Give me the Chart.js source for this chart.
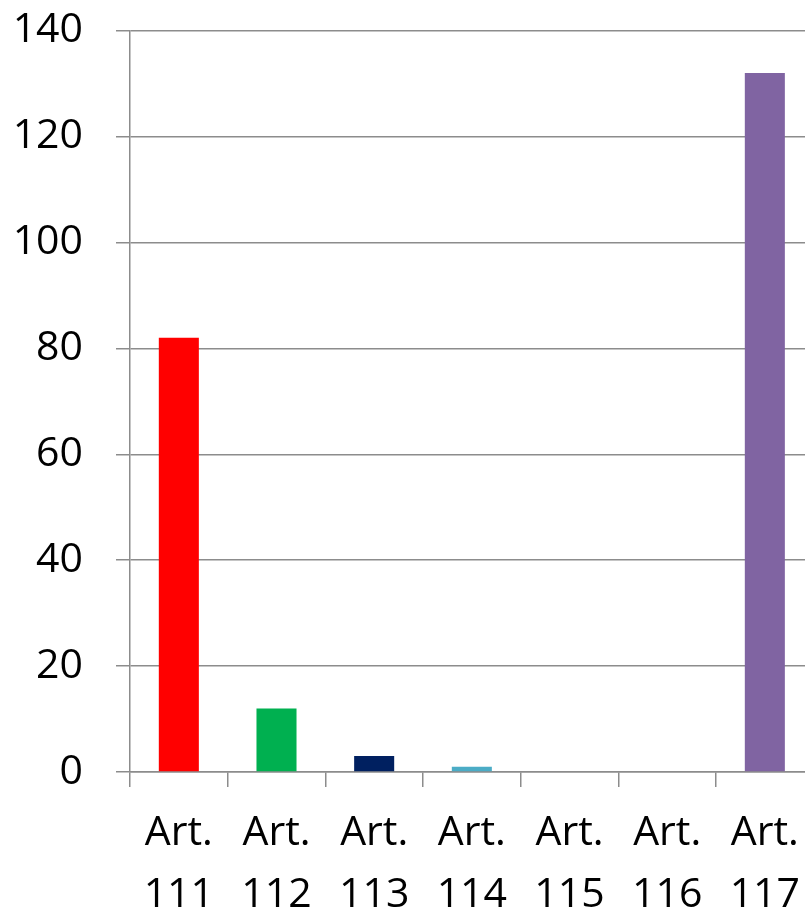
<!DOCTYPE html>
<html>
<head>
<meta charset="utf-8">
<script src="https://cdn.jsdelivr.net/npm/chart.js@4"></script>
<style>
  html, body { margin: 0; padding: 0; overflow: hidden; background: #fff; }
  #wrap { width: 816px; height: 937px; margin-top: -27px; }
</style>
</head>
<body>
<div id="wrap"><canvas id="chart"></canvas></div>
<script>
const categories = [['Art.', '111'], ['Art.', '112'], ['Art.', '113'], ['Art.', '114'], ['Art.', '115'], ['Art.', '116'], ['Art.', '117']]
const counts = [82, 12, 3, 1, 0, 0, 132]
const barColors = ['#FF0000', '#00B050', '#002060', '#4BACC6', '#4BACC6', '#4BACC6', '#8064A2']
const yMin = 0
const yMax = 140
const yStep = 20

const axisColor = '#8c8c8c'
const font = { family: '"Open Sans", sans-serif', size: 41, lineHeight: 1.5 }

new Chart(document.getElementById('chart').getContext('2d'), {
  type: 'bar',
  data: {
    labels: categories,
    datasets: [{
      data: counts,
      backgroundColor: barColors,
      borderWidth: 0,
      categoryPercentage: 1,
      barPercentage: 0.41
    }]
  },
  options: {
    responsive: true,
    maintainAspectRatio: false,
    animation: false,
    layout: { padding: { top: 0, left: 15, right: 0, bottom: 0 } },
    scales: {
      x: {
        offset: true,
        border: { color: axisColor, width: 1.5 },
        grid: { offset: true, drawOnChartArea: false, drawTicks: true, tickLength: 15, color: axisColor, lineWidth: 1.5 },
        ticks: { color: '#000', font: font, maxRotation: 0, autoSkip: false, padding: 16 },
        afterFit: axis => { axis.height = 138 }
      },
      y: {
        min: yMin,
        max: yMax,
        border: { color: axisColor, width: 1.5 },
        grid: { color: axisColor, lineWidth: 1.5, tickLength: 14 },
        ticks: { stepSize: yStep, color: '#000', font: { family: font.family, size: 41 }, padding: 33 },
        afterFit: axis => { axis.width = 115 }
      }
    },
    plugins: {
      legend: { display: false },
      tooltip: { enabled: false }
    }
  }
})
</script>
</body>
</html>
